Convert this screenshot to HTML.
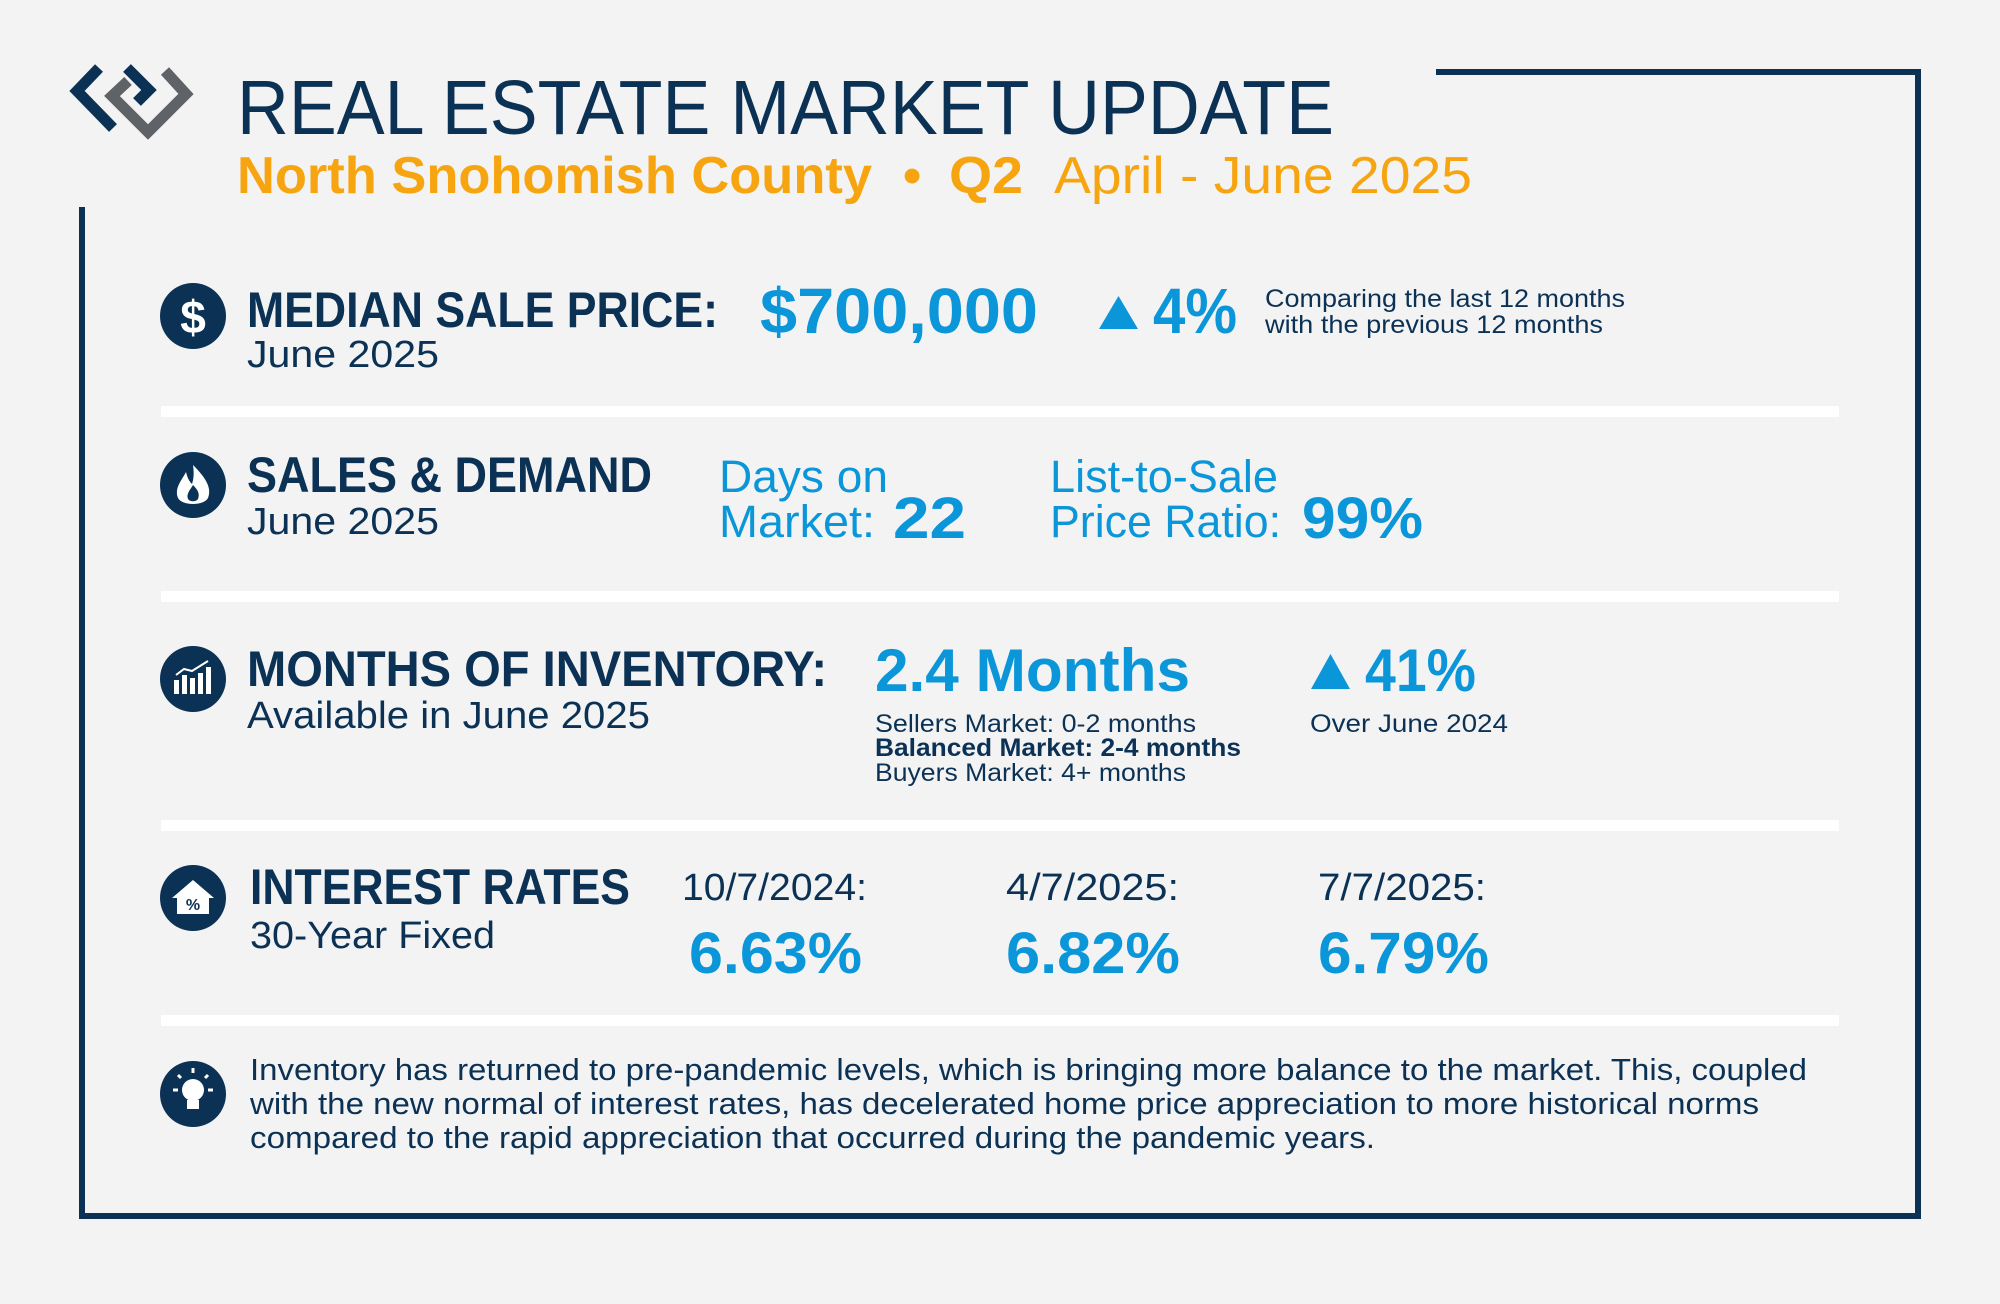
<!DOCTYPE html>
<html><head><meta charset="utf-8"><style>
html,body{margin:0;padding:0;background:#f3f3f3;}
svg{display:block}
text{font-family:"Liberation Sans",Arial,sans-serif}
.n{fill:#0b3155}.b{fill:#0a96d8}.o{fill:#f6a510}
</style></head><body>
<svg width="2000" height="1304" viewBox="0 0 2000 1304" xmlns="http://www.w3.org/2000/svg">
<rect width="2000" height="1304" fill="#f3f3f3"/>
<!-- frame -->
<path d="M1436 72 H1918 V1216 H82 V207" fill="none" stroke="#0b3155" stroke-width="6"/>
<!-- logo -->
<polyline points="99,68 77,91 113,128" fill="none" stroke="#0b3155" stroke-width="11" stroke-linejoin="miter"/>
<polyline points="127,68 149,90 137,102" fill="none" stroke="#0b3155" stroke-width="11" stroke-linejoin="miter"/>
<polyline points="128,81 112,96 148,132 186,94 165,71" fill="none" stroke="#5f6266" stroke-width="11" stroke-linejoin="miter"/>
<!-- title -->
<text x="237" y="134" font-size="77" class="n" textLength="1097" lengthAdjust="spacingAndGlyphs">REAL ESTATE MARKET UPDATE</text>
<text x="237" y="193" font-size="52" font-weight="bold" class="o" textLength="635" lengthAdjust="spacingAndGlyphs">North Snohomish County</text>
<text x="903" y="193" font-size="52" font-weight="bold" class="o">•</text>
<text x="949" y="193" font-size="52" font-weight="bold" class="o" textLength="74" lengthAdjust="spacingAndGlyphs">Q2</text>
<text x="1054" y="193" font-size="52" class="o" textLength="418" lengthAdjust="spacingAndGlyphs">April - June 2025</text>

<!-- separators -->
<rect x="161" y="406" width="1678" height="11" fill="#fff"/>
<rect x="161" y="591" width="1678" height="11" fill="#fff"/>
<rect x="161" y="820" width="1678" height="11" fill="#fff"/>
<rect x="161" y="1015" width="1678" height="11" fill="#fff"/>

<!-- icons -->
<g fill="#0b3155"><circle cx="193" cy="316" r="33"/><circle cx="193" cy="485" r="33"/><circle cx="193" cy="679" r="33"/><circle cx="193" cy="898" r="33"/><circle cx="193" cy="1094" r="33"/></g>
<text x="193" y="333" font-size="46" font-weight="bold" fill="#fff" text-anchor="middle">$</text>
<path d="M193 465 C206 478 212 488 208 498 C204 506 182 506 178 498 C174 488 182 480 186 472 C188 480 190 482 192 484 C194 478 194 472 193 465 Z" fill="#fff"/>
<path d="M193 485 C198 490 200 494 198 499 C196 502 190 502 188 499 C186 494 190 490 193 485Z" fill="#0b3155"/>
<g fill="#fff"><rect x="174" y="680" width="5" height="14"/><rect x="182" y="675" width="5" height="19"/><rect x="190" y="678" width="5" height="16"/><rect x="198" y="673" width="5" height="21"/><rect x="206" y="667" width="5" height="27"/></g>
<polyline points="176,675 184,669 192,671 200,666 208,661" fill="none" stroke="#fff" stroke-width="2"/>
<path d="M172 898 L193 880 L214 898 L209 898 L209 914 L177 914 L177 898 Z" fill="#fff"/>
<text x="193" y="910" font-size="16" font-weight="bold" fill="#0b3155" text-anchor="middle">%</text>
<circle cx="193" cy="1090" r="11" fill="#fff"/><rect x="187" y="1100" width="12" height="9" fill="#fff"/>
<g stroke="#fff" stroke-width="3"><line x1="193" y1="1068" x2="193" y2="1073"/><line x1="173" y1="1090" x2="178" y2="1090"/><line x1="208" y1="1090" x2="213" y2="1090"/><line x1="178" y1="1075" x2="181" y2="1078"/><line x1="208" y1="1075" x2="205" y2="1078"/></g>

<!-- section 1 -->
<text x="247" y="327" font-size="50" font-weight="bold" class="n" textLength="471" lengthAdjust="spacingAndGlyphs">MEDIAN SALE PRICE:</text>
<text x="247" y="367" font-size="38" class="n" textLength="192" lengthAdjust="spacingAndGlyphs">June 2025</text>
<text x="760" y="333" font-size="64" font-weight="bold" class="b" textLength="278" lengthAdjust="spacingAndGlyphs">$700,000</text>
<polygon points="1099,329 1138,329 1118.5,296" fill="#0a96d8"/>
<text x="1153" y="333" font-size="64" font-weight="bold" class="b" textLength="84" lengthAdjust="spacingAndGlyphs">4%</text>
<text x="1265" y="307" font-size="25" class="n" textLength="360" lengthAdjust="spacingAndGlyphs">Comparing the last 12 months</text>
<text x="1265" y="333" font-size="25" class="n" textLength="338" lengthAdjust="spacingAndGlyphs">with the previous 12 months</text>

<!-- section 2 -->
<text x="247" y="492" font-size="50" font-weight="bold" class="n" textLength="405" lengthAdjust="spacingAndGlyphs">SALES &amp; DEMAND</text>
<text x="247" y="534" font-size="38" class="n" textLength="192" lengthAdjust="spacingAndGlyphs">June 2025</text>
<text x="719" y="492" font-size="45" class="b" textLength="169" lengthAdjust="spacingAndGlyphs">Days on</text>
<text x="719" y="537" font-size="45" class="b" textLength="156" lengthAdjust="spacingAndGlyphs">Market:</text>
<text x="893" y="538" font-size="58" font-weight="bold" class="b" textLength="73" lengthAdjust="spacingAndGlyphs">22</text>
<text x="1050" y="492" font-size="45" class="b" textLength="228" lengthAdjust="spacingAndGlyphs">List-to-Sale</text>
<text x="1050" y="537" font-size="45" class="b" textLength="231" lengthAdjust="spacingAndGlyphs">Price Ratio:</text>
<text x="1302" y="538" font-size="58" font-weight="bold" class="b" textLength="121" lengthAdjust="spacingAndGlyphs">99%</text>

<!-- section 3 -->
<text x="247" y="686" font-size="50" font-weight="bold" class="n" textLength="580" lengthAdjust="spacingAndGlyphs">MONTHS OF INVENTORY:</text>
<text x="247" y="728" font-size="38" class="n" textLength="403" lengthAdjust="spacingAndGlyphs">Available in June 2025</text>
<text x="875" y="691" font-size="60" font-weight="bold" class="b" textLength="315" lengthAdjust="spacingAndGlyphs">2.4 Months</text>
<text x="875" y="732" font-size="25" class="n" textLength="321" lengthAdjust="spacingAndGlyphs">Sellers Market: 0-2 months</text>
<text x="875" y="756" font-size="25" font-weight="bold" class="n" textLength="366" lengthAdjust="spacingAndGlyphs">Balanced Market: 2-4 months</text>
<text x="875" y="781" font-size="25" class="n" textLength="311" lengthAdjust="spacingAndGlyphs">Buyers Market: 4+ months</text>
<polygon points="1311,689 1350,689 1330.5,654" fill="#0a96d8"/>
<text x="1365" y="691" font-size="60" font-weight="bold" class="b" textLength="111" lengthAdjust="spacingAndGlyphs">41%</text>
<text x="1310" y="732" font-size="25" class="n" textLength="198" lengthAdjust="spacingAndGlyphs">Over June 2024</text>

<!-- section 4 -->
<text x="250" y="904" font-size="50" font-weight="bold" class="n" textLength="380" lengthAdjust="spacingAndGlyphs">INTEREST RATES</text>
<text x="250" y="948" font-size="38" class="n" textLength="245" lengthAdjust="spacingAndGlyphs">30-Year Fixed</text>
<text x="682" y="900" font-size="38" class="n" textLength="185" lengthAdjust="spacingAndGlyphs">10/7/2024:</text>
<text x="689" y="973" font-size="58" font-weight="bold" class="b" textLength="173" lengthAdjust="spacingAndGlyphs">6.63%</text>
<text x="1006" y="900" font-size="38" class="n" textLength="173" lengthAdjust="spacingAndGlyphs">4/7/2025:</text>
<text x="1006" y="973" font-size="58" font-weight="bold" class="b" textLength="174" lengthAdjust="spacingAndGlyphs">6.82%</text>
<text x="1318" y="900" font-size="38" class="n" textLength="168" lengthAdjust="spacingAndGlyphs">7/7/2025:</text>
<text x="1318" y="973" font-size="58" font-weight="bold" class="b" textLength="171" lengthAdjust="spacingAndGlyphs">6.79%</text>

<!-- section 5 -->
<text x="250" y="1080" font-size="31" class="n" textLength="1557" lengthAdjust="spacingAndGlyphs">Inventory has returned to pre-pandemic levels, which is bringing more balance to the market. This, coupled</text>
<text x="250" y="1114" font-size="31" class="n" textLength="1509" lengthAdjust="spacingAndGlyphs">with the new normal of interest rates, has decelerated home price appreciation to more historical norms</text>
<text x="250" y="1148" font-size="31" class="n" textLength="1125" lengthAdjust="spacingAndGlyphs">compared to the rapid appreciation that occurred during the pandemic years.</text>
</svg>
</body></html>
